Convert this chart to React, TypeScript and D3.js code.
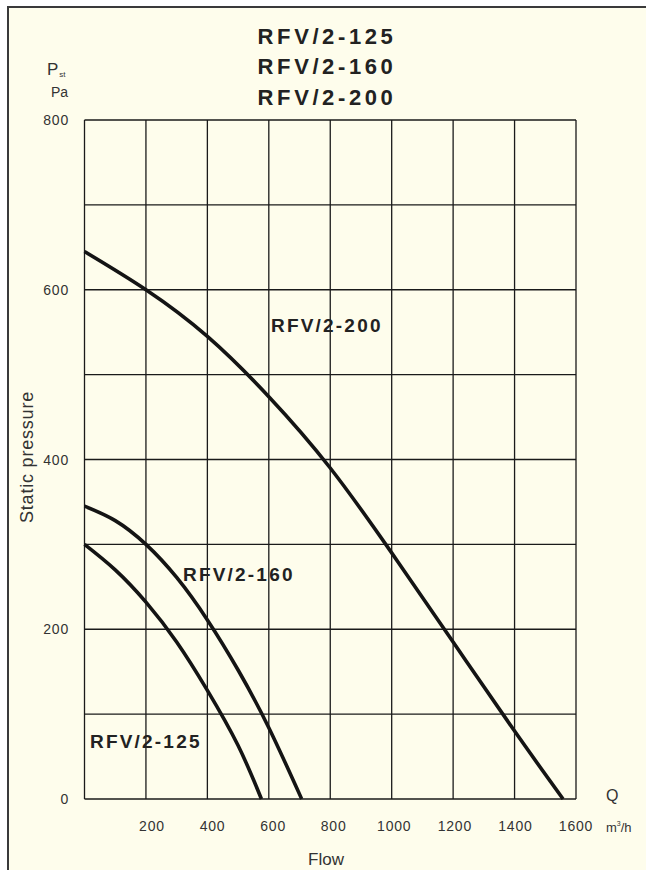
import React, { useRef, useEffect } from "react";
import * as d3 from "d3";

// flow (m3/h) vs static pressure (Pa)
const flow125 = [0, 100, 200, 300, 400, 500, 576];
const pst125 = [300, 270, 232, 185, 128, 63, 0];

const flow160 = [0, 100, 200, 300, 400, 500, 600, 707];
const pst160 = [345, 328, 300, 261, 211, 152, 84, 0];

const flow200 = [0, 200, 400, 600, 800, 1000, 1200, 1400, 1558];
const pst200 = [645, 600, 545, 474, 390, 290, 185, 80, 0];

const titles = ["RFV/2-125", "RFV/2-160", "RFV/2-200"];
const xTicks = [200, 400, 600, 800, 1000, 1200, 1400, 1600];
const yTicks = [0, 200, 400, 600, 800];

const FONT = "'Liberation Sans', Arial, sans-serif";

const App: React.FC = () => {
  const ref = useRef<SVGSVGElement | null>(null);

  useEffect(() => {
    if (!ref.current) return;
    const svg = d3.select(ref.current);
    svg.selectAll("*").remove();

    const width = 646;
    const height = 870;
    const left = 84.5, right = 576, top = 120, bottom = 799;

    const x = d3.scaleLinear().domain([0, 1600]).range([left, right]);
    const y = d3.scaleLinear().domain([0, 800]).range([bottom, top]);

    svg.attr("width", width).attr("height", height).style("font-family", FONT);

    // outer frame and background
    svg.append("rect").attr("width", width).attr("height", height).attr("fill", "#ffffff");
    svg.append("rect")
      .attr("x", 8).attr("y", 7)
      .attr("width", width).attr("height", height)
      .attr("fill", "#fefdec");
    svg.append("line").attr("x1", 8).attr("x2", width).attr("y1", 7).attr("y2", 7)
      .attr("stroke", "#3a3a3a").attr("stroke-width", 2);
    svg.append("line").attr("x1", 8).attr("x2", 8).attr("y1", 6).attr("y2", height)
      .attr("stroke", "#3a3a3a").attr("stroke-width", 2);

    // grid
    const grid = svg.append("g").attr("stroke", "#1a1a1a").attr("stroke-width", 1.3);
    grid.selectAll("line.v")
      .data(d3.range(0, 1601, 200))
      .join("line")
      .attr("x1", (d) => x(d)).attr("x2", (d) => x(d))
      .attr("y1", y(0)).attr("y2", y(800));
    grid.selectAll("line.h")
      .data(d3.range(0, 801, 100))
      .join("line")
      .attr("class", "h")
      .attr("x1", x(0)).attr("x2", x(1600))
      .attr("y1", (d) => y(d)).attr("y2", (d) => y(d));

    // curves
    const line = d3.line<[number, number]>()
      .x((d) => x(d[0]))
      .y((d) => y(d[1]))
      .curve(d3.curveNatural);

    const series: [number[], number[]][] = [
      [flow125, pst125],
      [flow160, pst160],
      [flow200, pst200],
    ];
    svg.append("g")
      .selectAll("path")
      .data(series)
      .join("path")
      .attr("d", (s) => line(s[0].map((f, i) => [f, s[1][i]] as [number, number]))!)
      .attr("fill", "none")
      .attr("stroke", "#141414")
      .attr("stroke-width", 3.6)
      .attr("stroke-linecap", "butt");

    // curve labels
    const labels: [string, number, number][] = [
      ["RFV/2-200", 271, 332],
      ["RFV/2-160", 183, 581],
      ["RFV/2-125", 90, 748],
    ];
    svg.append("g")
      .selectAll("text")
      .data(labels)
      .join("text")
      .attr("x", (d) => d[1])
      .attr("y", (d) => d[2])
      .attr("font-size", 19)
      .attr("font-weight", "bold")
      .attr("letter-spacing", 2.2)
      .attr("fill", "#222")
      .text((d) => d[0]);

    // title
    svg.append("g")
      .selectAll("text")
      .data(titles)
      .join("text")
      .attr("x", 327)
      .attr("y", (_, i) => 43.5 + i * 30.5)
      .attr("text-anchor", "middle")
      .attr("font-size", 22)
      .attr("font-weight", "bold")
      .attr("letter-spacing", 3.6)
      .attr("fill", "#222")
      .text((d) => d);

    // x tick labels
    svg.append("g")
      .selectAll("text")
      .data(xTicks)
      .join("text")
      .attr("x", (d) => x(d) + 6 * (1600 - d) / 1400)
      .attr("y", 831)
      .attr("text-anchor", "middle")
      .attr("font-size", 14)
      .attr("letter-spacing", 0.8)
      .attr("fill", "#333")
      .text((d) => d);

    // y tick labels
    svg.append("g")
      .selectAll("text")
      .data(yTicks)
      .join("text")
      .attr("x", 69)
      .attr("y", (d) => y(d) + 5)
      .attr("text-anchor", "end")
      .attr("font-size", 14)
      .attr("letter-spacing", 0.8)
      .attr("fill", "#333")
      .text((d) => d);

    // unit labels
    const pst = svg.append("text").attr("x", 47).attr("y", 75).attr("font-size", 17).attr("fill", "#333");
    pst.append("tspan").text("P");
    pst.append("tspan").attr("font-size", 8).attr("dx", 1).attr("dy", 2).text("st");
    svg.append("text").attr("x", 51).attr("y", 97).attr("font-size", 14).attr("fill", "#333").text("Pa");

    svg.append("text").attr("x", 606).attr("y", 801).attr("font-size", 16).attr("fill", "#333").text("Q");
    const unit = svg.append("text").attr("x", 606).attr("y", 832).attr("font-size", 13).attr("fill", "#333");
    unit.append("tspan").text("m");
    unit.append("tspan").attr("font-size", 7).attr("dy", -6).text("3");
    unit.append("tspan").attr("dy", 6).text("/h");

    // axis titles
    svg.append("text")
      .attr("x", 326).attr("y", 865)
      .attr("text-anchor", "middle")
      .attr("font-size", 17)
      .attr("fill", "#333")
      .text("Flow");
    svg.append("text")
      .attr("transform", `translate(33,457) rotate(-90)`)
      .attr("text-anchor", "middle")
      .attr("font-size", 18)
      .attr("letter-spacing", 0.8)
      .attr("fill", "#333")
      .text("Static pressure");
  }, []);

  return (
    <div style={{ position: "absolute", left: 0, top: 0 }}>
      <svg ref={ref} style={{ display: "block" }}></svg>
    </div>
  );
};

export default App;
